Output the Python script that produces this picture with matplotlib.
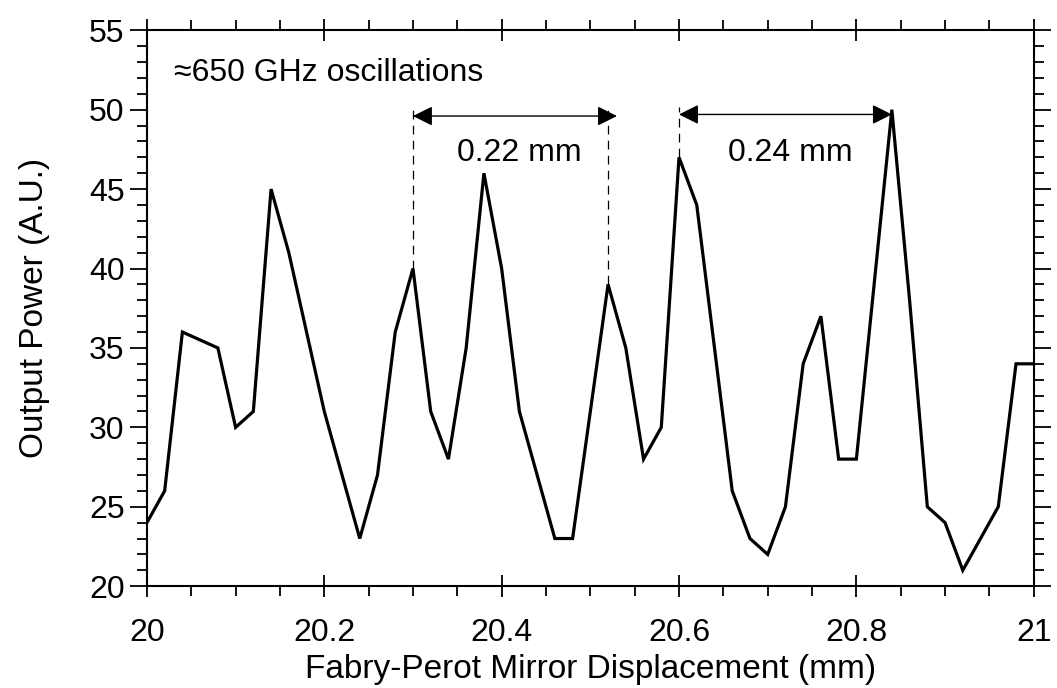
import matplotlib
matplotlib.use('Agg')
from matplotlib import pyplot as plt
from matplotlib.ticker import MultipleLocator

# mirror displacement (mm), step 0.02
displacement = [20.00, 20.02, 20.04, 20.06, 20.08, 20.10, 20.12, 20.14, 20.16, 20.18,
                20.20, 20.22, 20.24, 20.26, 20.28, 20.30, 20.32, 20.34, 20.36, 20.38,
                20.40, 20.42, 20.44, 20.46, 20.48, 20.50, 20.52, 20.54, 20.56, 20.58,
                20.60, 20.62, 20.64, 20.66, 20.68, 20.70, 20.72, 20.74, 20.76, 20.78,
                20.80, 20.82, 20.84, 20.86, 20.88, 20.90, 20.92, 20.94, 20.96, 20.98,
                21.00]
power = [24, 26, 36, 35.5, 35, 30, 31, 45, 41, 36,
         31, 27, 23, 27, 36, 40, 31, 28, 35, 46,
         40, 31, 27, 23, 23, 31, 39, 35, 28, 30,
         47, 44, 35, 26, 23, 22, 25, 34, 37, 28,
         28, 39, 50, 38, 25, 24, 21, 23, 25, 34,
         34]

# spacing markers: (start, end, arrow height, label)
spacings = [(20.30, 20.53, 49.6, '0.22 mm'),
            (20.60, 20.84, 49.7, '0.24 mm')]
dash_lines = [(20.30, 40), (20.52, 39), (20.60, 47)]

font = ['Liberation Sans', 'DejaVu Sans']
plt.rcParams['font.family'] = font

fig = plt.figure(figsize=(10.57, 6.88), dpi=100)
ax = fig.add_axes([0.139, 0.148, 0.839, 0.808])

ax.plot(displacement, power, color='black', lw=2.3, solid_joinstyle='miter')

for x, y0 in dash_lines:
    ax.plot([x, x], [y0, 50.2], color='black', lw=0.9, dashes=(7, 5))

for x0, x1, y, lab in spacings:
    ax.annotate('', xy=(x1, y), xytext=(x0, y),
                arrowprops=dict(arrowstyle='<|-|>', color='black', lw=1.0,
                                mutation_scale=30, shrinkA=0, shrinkB=0))
    ax.text((x0 + x1) / 2 + 0.005, 47.3, lab, ha='center', va='center', fontsize=23)

ax.text(20.03, 52.3, '\u2248650 GHz oscillations', ha='left', va='center', fontsize=23)

ax.set_xlim(20, 21)
ax.set_ylim(20, 55)
ax.xaxis.set_major_locator(MultipleLocator(0.2))
ax.xaxis.set_minor_locator(MultipleLocator(0.05))
ax.yaxis.set_major_locator(MultipleLocator(5))
ax.yaxis.set_minor_locator(MultipleLocator(1))
ax.set_xticks([20, 20.2, 20.4, 20.6, 20.8, 21])
ax.set_xticklabels(['20', '20.2', '20.4', '20.6', '20.8', '21'])

ax.tick_params(which='both', top=True, right=True, labelsize=23, width=1.3)
ax.tick_params(which='major', direction='inout', length=16, pad=6)
ax.tick_params(which='minor', direction='out', length=7)
ax.tick_params(axis='x', which='major', pad=15)
ax.tick_params(axis='y', which='major', direction='out', length=12, pad=4)
for s in ax.spines.values():
    s.set_linewidth(1.5)

ax.set_xlabel('Fabry-Perot Mirror Displacement (mm)', fontsize=24, labelpad=4)
ax.set_ylabel('Output Power (A.U.)', fontsize=24, labelpad=28)

fig.savefig('out.png', dpi=100)
